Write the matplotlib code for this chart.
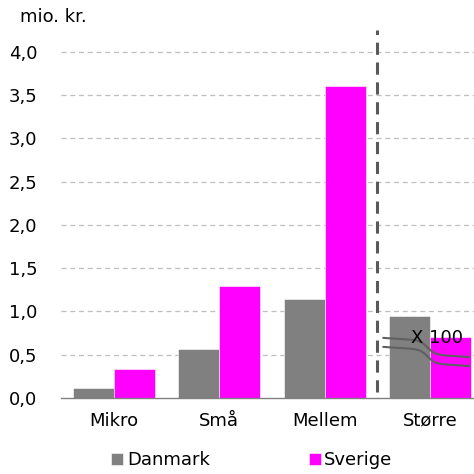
import matplotlib
matplotlib.use("Agg")
import matplotlib.pyplot as plt
import numpy as np

categories = ["Mikro", "Små", "Mellem", "Større"]
danmark = [0.12, 0.57, 1.14, 0.95]
sverige = [0.33, 1.29, 3.60, 0.70]
yticks = [0.0, 0.5, 1.0, 1.5, 2.0, 2.5, 3.0, 3.5, 4.0]
ytick_labels = ["0,0", "0,5", "1,0", "1,5", "2,0", "2,5", "3,0", "3,5", "4,0"]

plt.rcParams['font.family'] = ['DejaVu Sans']
W = H = 474
fig = plt.figure(figsize=(4.74, 4.74), dpi=100)
ax_left, ax_right = 61, 474
ax_bottom, ax_top = 398, 30
ax = fig.add_axes([ax_left / W, 1 - ax_bottom / H, (ax_right - ax_left) / W, (ax_bottom - ax_top) / H])

x = np.arange(len(categories))
bw = 41 / 106
ax.bar(x - bw / 2, danmark, bw, color="#808080", edgecolor="white", linewidth=0.4, label="Danmark", zorder=3)
ax.bar(x + bw / 2, sverige, bw, color="#ff00ff", edgecolor="white", linewidth=0.4, label="Sverige", zorder=3)

ax.set_xlim(-0.5, 3 + (474 - 430) / 106)
ax.set_ylim(0, 4.25)
ax.set_yticks(yticks)
ax.set_yticklabels(ytick_labels, fontsize=13)
ax.set_xticks(x)
ax.set_xticklabels(categories, fontsize=13)
ax.tick_params(axis="both", length=0)
ax.tick_params(axis="y", pad=17)
ax.tick_params(axis="x", pad=10)
for s in ["top", "right", "left"]:
    ax.spines[s].set_visible(False)
ax.spines["bottom"].set_color("#808080")
ax.spines["bottom"].set_linewidth(1.0)
ax.spines["bottom"].set_zorder(4)

for yv in yticks[1:]:
    ax.axhline(yv, color="#bfbfbf", linestyle=(0, (4, 3)), linewidth=0.9, zorder=1)

# separator
ax.plot([2.5, 2.5], [0.07, 4.25], color="#595959", linestyle=(0, (4, 2.5)), linewidth=2.2, zorder=5, clip_on=False)

# break marks and scale note
xs = np.linspace(2.557, 3.368, 200)
lin = (xs - xs[0]) / (xs[-1] - xs[0])
step = 0.5 * (1 + np.tanh((xs - 2.975) / 0.07))
drop = 0.06 * lin + 0.16 * step
ax.plot(xs, 0.694 - drop, color="#606060", linewidth=1.5, zorder=6)
ax.plot(xs, 0.59 - drop, color="#606060", linewidth=1.5, zorder=6)
ax.text(3.06, 0.69, "X 100", fontsize=13, ha="center", va="center", zorder=7)

fig.text(20 / W, 1 - 17 / H, "mio. kr.", fontsize=13, ha="left", va="center")

leg = fig.legend(loc="center", bbox_to_anchor=(252 / W, 1 - 460 / H), ncol=2, frameon=False,
                 fontsize=13, handlelength=0.65, handleheight=0.65, handletextpad=0.2,
                 columnspacing=5.5)

fig.savefig("out.png", dpi=100)
